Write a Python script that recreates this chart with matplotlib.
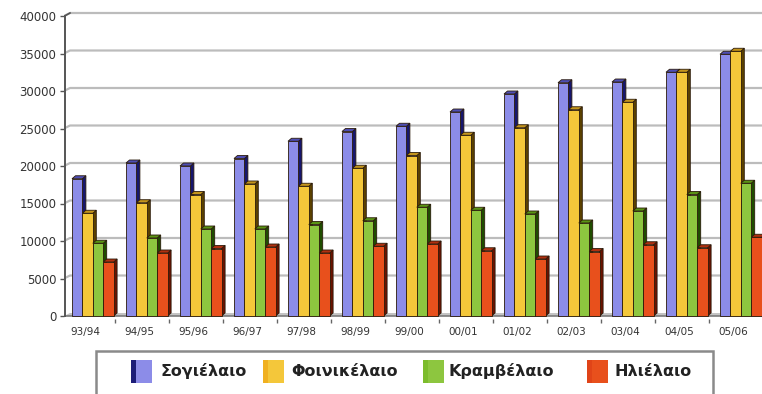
import numpy as np
import matplotlib
matplotlib.use("Agg")
import matplotlib.pyplot as plt
from matplotlib.patches import Polygon, Rectangle

# ---- data -------------------------------------------------------------
seasons = ["93/94", "94/95", "95/96", "96/97", "97/98", "98/99", "99/00",
           "00/01", "01/02", "02/03", "03/04", "04/05", "05/06"]
series_names = ["Σογιέλαιο", "Φοινικέλαιο", "Κραμβέλαιο", "Ηλιέλαιο"]
soy = [18300, 20400, 20000, 21000, 23300, 24600, 25300,
       27200, 29600, 31100, 31200, 32500, 34900]
palm = [13700, 15100, 16200, 17600, 17300, 19700, 21400,
        24100, 25100, 27500, 28500, 32500, 35300]
rapeseed = [9700, 10400, 11600, 11600, 12200, 12700, 14500,
            14100, 13600, 12400, 14000, 16200, 17700]
sunflower = [7200, 8400, 9000, 9200, 8400, 9300, 9600,
             8700, 7600, 8600, 9500, 9100, 10500]
y_ticks = list(range(0, 40001, 5000))

values = [soy, palm, rapeseed, sunflower]

# ---- style ------------------------------------------------------------
front_cols = ["#8c8ce8", "#f4c73a", "#8dc63f", "#e8501c"]
side_cols = ["#16166e", "#5c4200", "#1f4d00", "#6b1200"]
top_cols = ["#4e4eb4", "#c4951c", "#5a9414", "#b03010"]
strip_cols = ["#1c1c78", "#f0b020", "#7cbc2c", "#e04418"]
edge = "#2a1a0a"

W, H = 762, 394
fig = plt.figure(figsize=(W / 100, H / 100), dpi=100)
fig.patch.set_facecolor("white")

# axes geometry (pixels): front plane
px_left, px_right = 64, 762
px_zero = 316
px_unit = 300 / 40000          # pixels per value unit
px_cat = 54.0                  # pixels per category
cat0_px = 92.8                 # pixel of first group centre
ylo, yhi = -400, 41000
x0 = (px_left - cat0_px) / px_cat
x1 = (px_right - cat0_px) / px_cat
ax_bottom = px_zero + (-ylo) * px_unit
ax_top = px_zero - yhi * px_unit
ax = fig.add_axes([px_left / W, (H - ax_bottom) / H,
                   (px_right - px_left) / W, (ax_bottom - ax_top) / H])
ax.set_xlim(x0, x1)
ax.set_ylim(ylo, yhi)
for s in ax.spines.values():
    s.set_visible(False)

# depth offsets
DX = 3.5 / px_cat        # bar depth (x)
DY = 3.0 / px_unit       # bar depth (y)
WX = 6.0 / px_cat        # wall depth (x)
WY = 3.0 / px_unit       # wall depth (y)

# floor
ax.add_patch(Polygon([(x0, 0), (x1, 0), (x1, WY), (x0 + WX, WY)],
                     closed=True, facecolor="#c4c4c4", edgecolor="none",
                     zorder=0.5))
ax.plot([x0, x1], [0, 0], color="#7a7a7a", lw=1.2, zorder=0.6)

# gridlines on side and back walls
for v in y_ticks[1:]:
    ax.plot([x0, x0 + WX, x1], [v, v + WY, v + WY], color="#bcbcbc",
            lw=1.6, zorder=0.4, solid_capstyle="butt")

# left axis line
ax.plot([x0 + 0.01, x0 + 0.01], [0, 40000], color="#555555", lw=1.4, zorder=1)
ax.plot([x0 + 0.01, x0 + WX], [40000, 40000 + WY], color="#555555", lw=1.2,
        zorder=1)

# bars with simple depth faces
x = np.arange(len(seasons))
bw = 10.4 / px_cat
for k, vals in enumerate(values):
    lefts = x - 2 * bw + k * bw
    for xl, v in zip(lefts, vals):
        xr = xl + bw
        ax.add_patch(Polygon([(xr, 0), (xr + DX, DY), (xr + DX, v + DY), (xr, v)],
                             closed=True, facecolor=side_cols[k], edgecolor=edge,
                             lw=0.6, zorder=3 + 2 * k))
        ax.add_patch(Polygon([(xl, v), (xl + DX, v + DY), (xr + DX, v + DY), (xr, v)],
                             closed=True, facecolor=top_cols[k], edgecolor=edge,
                             lw=0.6, zorder=3 + 2 * k))
    ax.bar(lefts, vals, width=bw, align="edge", color=front_cols[k],
           edgecolor=edge, linewidth=0.6, zorder=4 + 2 * k)

# y axis ticks
ax.set_yticks(y_ticks)
ax.set_yticklabels([str(v) for v in y_ticks])
ax.tick_params(axis="y", direction="out", length=3, width=1, color="#555555",
               labelsize=8.5, labelcolor="#333333", pad=2.5)

# x axis: labels under the front edge, tick marks between groups
ax.set_xticks(x - 0.14)
ax.set_xticklabels(seasons)
ax.set_xticks(x[:-1] + 0.5 - 0.09, minor=True)
ax.tick_params(axis="x", which="major", length=0, labelsize=7.5,
               labelcolor="#333333", pad=6)
ax.tick_params(axis="x", which="minor", length=3, width=1, color="#666666")

# legend box
lg_left, lg_right, lg_top = 96, 713, 351
fig.patches.append(Rectangle((lg_left / W, -5 / H), (lg_right - lg_left) / W,
                             (H - lg_top + 5) / H, transform=fig.transFigure,
                             facecolor="white", edgecolor="#8a8a8a", lw=1.8))
patch_x = [131, 263, 423, 587]
text_x = [160, 291, 449, 615]
pw, ph, ly = 21, 23, 371
for k, name in enumerate(series_names):
    fig.patches.append(Rectangle((patch_x[k] / W, (H - ly - ph / 2) / H),
                                 pw / W, ph / H, transform=fig.transFigure,
                                 facecolor=front_cols[k], edgecolor="none"))
    fig.patches.append(Rectangle((patch_x[k] / W, (H - ly - ph / 2) / H),
                                 5 / W, ph / H, transform=fig.transFigure,
                                 facecolor=strip_cols[k], edgecolor="none"))
    fig.text(text_x[k] / W, (H - ly) / H, name, ha="left", va="center",
             fontsize=11.5, fontweight="bold", color="#222222",
             family="DejaVu Sans")

fig.savefig("out.png", dpi=100, facecolor="white")
